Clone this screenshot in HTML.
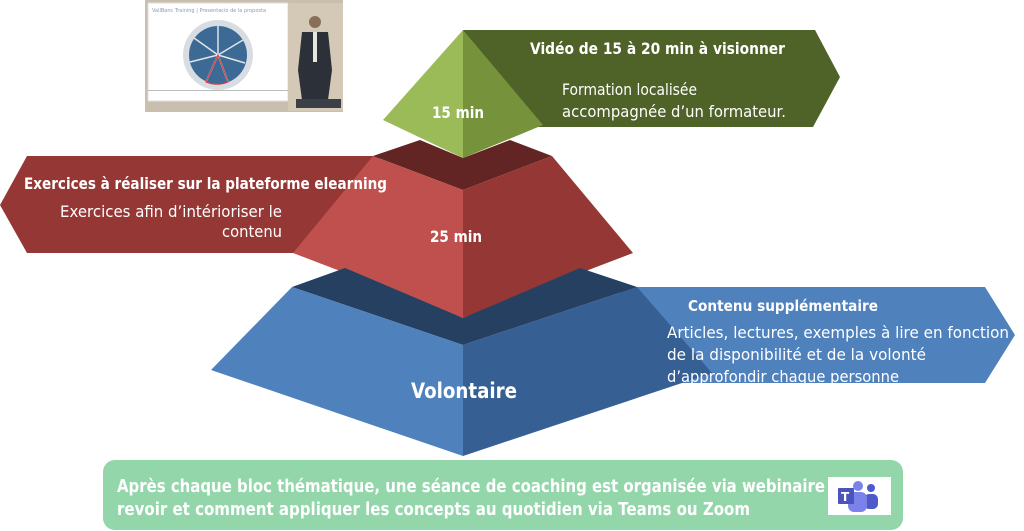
<!DOCTYPE html>
<html><head><meta charset="utf-8"><style>
html,body{margin:0;padding:0;background:#fff;width:1024px;height:531px;overflow:hidden}
svg{display:block}
text{font-family:"DejaVu Sans","Liberation Sans",sans-serif;fill:#fff}
</style></head><body>
<svg width="1024" height="531" viewBox="0 0 1024 531" xmlns="http://www.w3.org/2000/svg">
<!-- thumbnail -->
<rect x="145" y="0" width="198" height="112" fill="#c9bfae"/>
<rect x="148" y="3" width="140" height="98" fill="#fff" stroke="#ddd"/>
<text x="152" y="12" font-size="5" style="fill:#8a9bb0">VallBanc Training | Presentació de la proposta</text>
<circle cx="218" cy="55" r="35" fill="#d8dde3"/>
<circle cx="218" cy="55" r="29" fill="#3d6a94"/>
<g stroke="#dfe5ea" stroke-width="1.5">
<line x1="218" y1="55" x2="218" y2="26"/><line x1="218" y1="55" x2="243" y2="40"/><line x1="218" y1="55" x2="245" y2="63"/>
<line x1="218" y1="55" x2="228" y2="82"/><line x1="218" y1="55" x2="206" y2="82"/><line x1="218" y1="55" x2="190" y2="62"/><line x1="218" y1="55" x2="194" y2="38"/></g>
<path d="M218 55 L206 82 A29 29 0 0 0 228 82 Z" fill="none" stroke="#d33" stroke-width="1"/>
<rect x="148" y="90" width="140" height="1" fill="#bbb"/>
<rect x="288" y="3" width="55" height="108" fill="#d4c9b6"/>
<circle cx="315" cy="22" r="6" fill="#8a6f58"/>
<path d="M302 32 L328 32 L332 70 L328 100 L302 100 L298 70 Z" fill="#2c3038"/>
<rect x="313" y="32" width="4" height="30" fill="#e8e6e0"/>
<rect x="296" y="99" width="45" height="9" fill="#3a3f48"/>
<!-- green arrow -->
<polygon points="463,30 815,30 840,77 813,127 463,127" fill="#4f6228"/>
<!-- green pyramid -->
<polygon points="463,30 383,120 463,158" fill="#9bbb59"/>
<polygon points="463,30 543,125 463,158" fill="#76933c"/>
<!-- red arrow -->
<polygon points="27,156 380,156 380,253 27,253 0,205" fill="#953735"/>
<!-- red pyramid -->
<polygon points="373,156 420,140 463,158 510,140 552,156 463,190" fill="#632523"/>
<polygon points="373,156 463,190 463,318 293,253" fill="#c0504d"/>
<polygon points="552,156 463,190 463,318 633,253" fill="#953735"/>
<!-- blue arrow -->
<polygon points="620,287 985,287 1015,335 985,383 620,383" fill="#4f81bd"/>
<!-- blue pyramid -->
<polygon points="292,287 345,268 463,318 580,268 637,287 463,345" fill="#254061"/>
<polygon points="292,287 463,345 463,456 211,370" fill="#4f81bd"/>
<polygon points="637,287 463,345 463,456 712,373" fill="#365f93"/>
<!-- texts -->
<g lengthAdjust="spacingAndGlyphs">
<text x="530" y="54" font-size="16" font-weight="bold" textLength="255" lengthAdjust="spacingAndGlyphs">Vidéo de 15 à 20 min à visionner</text>
<text x="562" y="95" font-size="16" textLength="135" lengthAdjust="spacingAndGlyphs">Formation localisée</text>
<text x="562" y="117" font-size="16" textLength="224" lengthAdjust="spacingAndGlyphs">accompagnée d’un formateur.</text>
<text x="432" y="118" font-size="16" font-weight="bold" textLength="52" lengthAdjust="spacingAndGlyphs">15 min</text>
<text x="24" y="189" font-size="16" font-weight="bold" textLength="363" lengthAdjust="spacingAndGlyphs">Exercices à réaliser sur la plateforme elearning</text>
<text x="60" y="217" font-size="16" textLength="222" lengthAdjust="spacingAndGlyphs">Exercices afin d’intérioriser le</text>
<text x="222" y="237" font-size="16" textLength="60" lengthAdjust="spacingAndGlyphs">contenu</text>
<text x="430" y="242" font-size="16" font-weight="bold" textLength="52" lengthAdjust="spacingAndGlyphs">25 min</text>
<text x="688" y="311" font-size="15.5" font-weight="bold" textLength="190" lengthAdjust="spacingAndGlyphs">Contenu supplémentaire</text>
<text x="667" y="338" font-size="16" textLength="342" lengthAdjust="spacingAndGlyphs">Articles, lectures, exemples à lire en fonction</text>
<text x="667" y="360" font-size="16" textLength="259" lengthAdjust="spacingAndGlyphs">de la disponibilité et de la volonté</text>
<text x="667" y="382" font-size="16" textLength="232" lengthAdjust="spacingAndGlyphs">d’approfondir chaque personne</text>
<text x="411" y="398" font-size="21" font-weight="bold" textLength="106" lengthAdjust="spacingAndGlyphs">Volontaire</text>
</g>
<!-- bottom box -->
<rect x="103" y="460" width="800" height="70" rx="12" fill="#92d6aa"/>
<text x="117" y="492" font-size="18" font-weight="bold" textLength="708" lengthAdjust="spacingAndGlyphs">Après chaque bloc thématique, une séance de coaching est organisée via webinaire</text>
<text x="117" y="515" font-size="18" font-weight="bold" textLength="633" lengthAdjust="spacingAndGlyphs">revoir et comment appliquer les concepts au quotidien via Teams ou Zoom</text>
<rect x="828" y="477" width="63" height="38" fill="#fff"/>
<circle cx="858" cy="486" r="5" fill="#7b83eb"/>
<circle cx="871" cy="488" r="4" fill="#5059c9"/>
<rect x="864" y="494" width="14" height="15" rx="5" fill="#5059c9"/>
<rect x="848" y="492" width="19" height="20" rx="6" fill="#7b83eb"/>
<rect x="838" y="488" width="16" height="16" rx="1" fill="#4b53bc"/>
<text x="841" y="501" font-size="12" font-weight="bold" font-family="Liberation Sans">T</text>
</svg>
</body></html>
